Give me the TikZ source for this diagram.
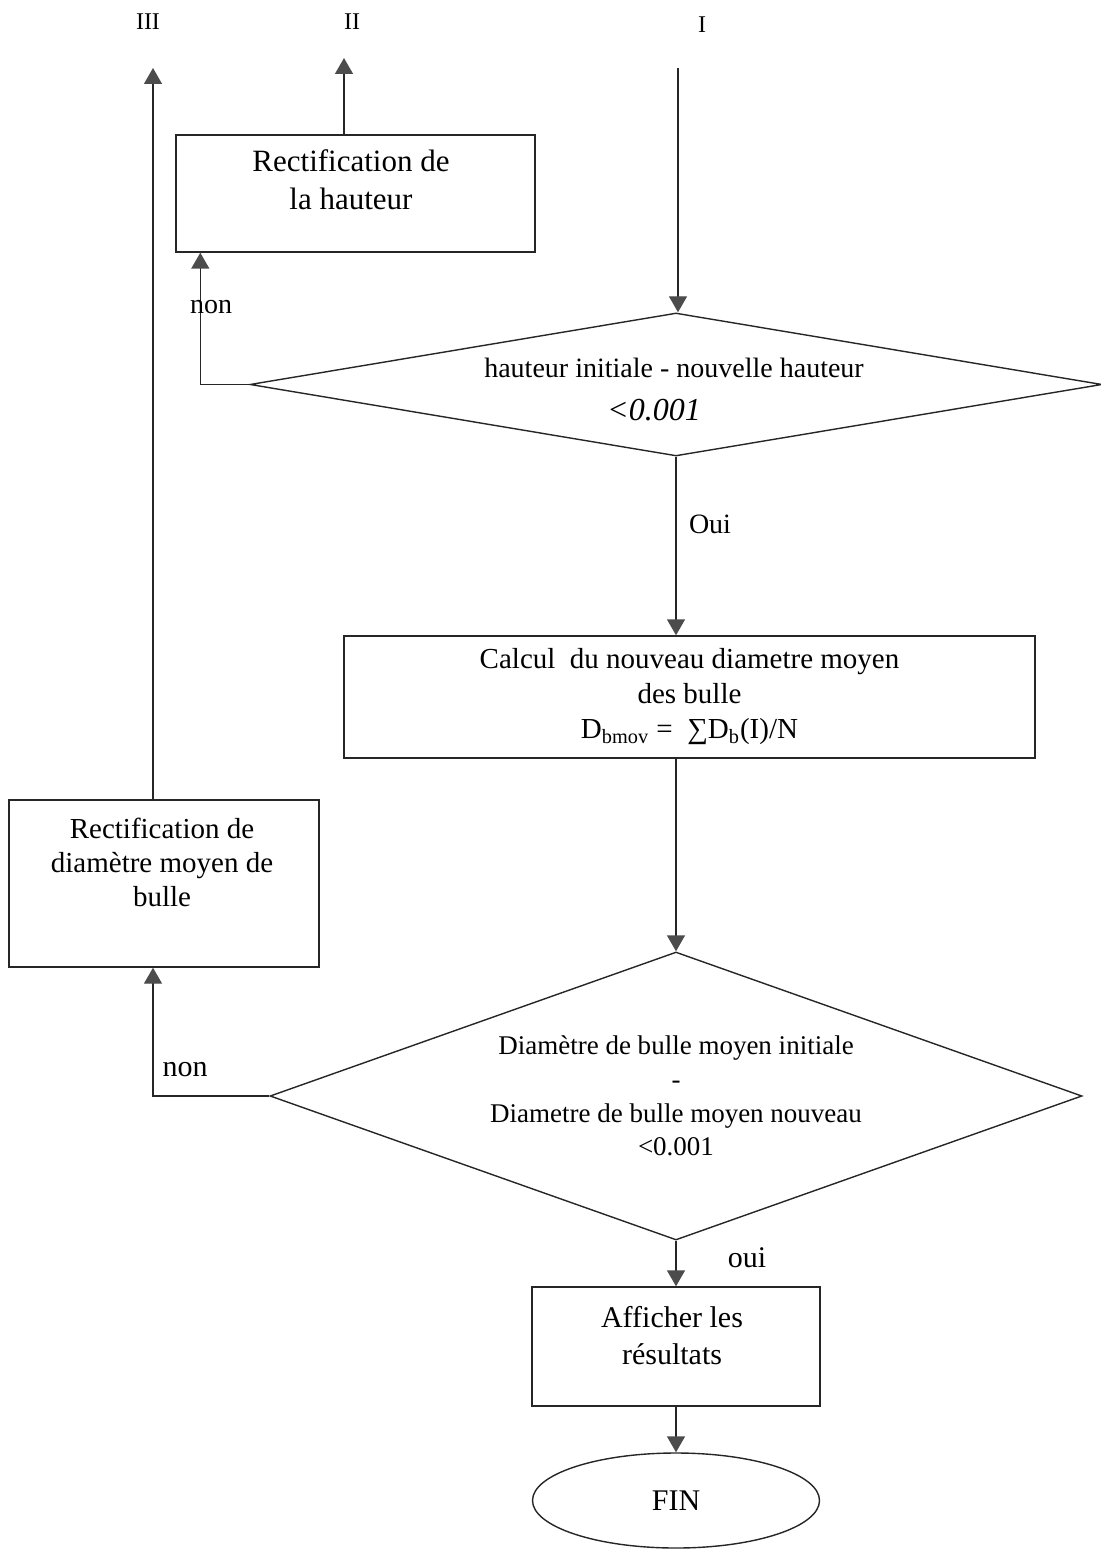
\documentclass[tikz,border=0pt]{standalone}
\usepackage{fontspec}
\setmainfont{Liberation Serif}
\usetikzlibrary{shapes.geometric,arrows.meta,calc}
\begin{document}
\begin{tikzpicture}[x=0.5pt,y=-0.5pt,
  line/.style={draw=black!85,line width=0.7pt},
  arr/.style={line,-{Triangle[width=9pt,length=8pt,color=black!70]}},
  box/.style={draw=black!85,line width=0.7pt,rectangle,inner sep=0pt},
  dec/.style={draw=black!85,line width=0.7pt,shape=diamond,inner sep=0pt,align=center},
  txt/.style={align=center,inner sep=0pt,font=\fontsize{15}{18.5}\selectfont},
  lab/.style={inner sep=0pt,font=\fontsize{14}{17}\selectfont}]
\useasboundingbox (0,0) rectangle (1100,1550);

% top labels and free ends
\node[lab,font=\fontsize{12}{14}\selectfont] (lIII) at (148,22) {III};
\node[lab,font=\fontsize{12}{14}\selectfont] (lII) at (352,22) {II};
\node[lab,font=\fontsize{12}{14}\selectfont] (lI) at (702,25) {I};
\coordinate (IIItip) at (153,68);
\coordinate (IItip) at (344,58);
\coordinate (Itop) at (678,68);

% box 1
\node[box,minimum width=179.5pt,minimum height=58.5pt] (box1) at (355.5,193.5) {};
\node[txt,font=\fontsize{15.5}{19}\selectfont] (box1t) at (351,180) {Rectification de\\la hauteur};

% diamond 1
\node[dec,aspect=6,minimum width=426pt,minimum height=71.5pt,
  font=\fontsize{14}{19.5}\selectfont] (d1) at (676,384.5) {};
\node[align=center,inner sep=0pt,font=\fontsize{14}{19.5}\selectfont] (d1t) at (674,390)
  {hauteur initiale - nouvelle hauteur\\[2pt]{\itshape\fontsize{16}{16}\selectfont\hspace*{-20pt}<0.001}};

% box 2
\node[box,minimum width=345.5pt,minimum height=61pt,align=center,
  font=\fontsize{14.5}{17.5}\selectfont] (box2) at (689.5,697)
  {Calcul\ \ du nouveau diametre moyen\\des bulle\\D\textsubscript{bmov} =\ \ ∑D\textsubscript{b}(I)/N};

% left box
\node[box,minimum width=155pt,minimum height=83.5pt] (box4) at (164,883.5) {};
\node[txt,font=\fontsize{14.5}{17}\selectfont] (box4t) at (162,862) {Rectification de\\diamètre moyen de\\bulle};

% diamond 2
\node[dec,aspect=2.82,minimum width=406pt,minimum height=144pt,
  font=\fontsize{13.5}{16.8}\selectfont] (d2) at (676,1096)
  {Diamètre de bulle moyen initiale\\-\\Diametre de bulle moyen nouveau\\<0.001};

% box 3
\node[box,minimum width=144pt,minimum height=59.5pt] (box3) at (676,1346.5) {};
\node[txt] (box3t) at (672,1335.5) {Afficher les\\résultats};

% end
\node[draw=black!85,line width=0.7pt,ellipse,minimum width=143.5pt,minimum height=47.5pt,inner sep=0pt,
  font=\fontsize{15}{18}\selectfont] (fin) at (676,1500.5) {FIN};

% connectors
\draw[arr] (Itop) -- (Itop |- d1.north);
\draw[arr] (IItip |- box1.north) -- (IItip);
\draw[arr] (IIItip |- box4.north) -- (IIItip);
\draw[arr] (d1.west) -| ($(box1.south west)+(25,0)$);
\node[lab] (non1) at (211,307) {non};
\draw[arr] (d1.south) -- (d1.south |- box2.north);
\node[lab] (oui1) at (710,524) {Oui};
\draw[arr] (d2.north |- box2.south) -- (d2.north);
\draw[arr] (d2.west) -| (IIItip |- box4.south);
\node[lab,font=\fontsize{15}{17}\selectfont] (non2) at (185,1070) {non};
\draw[arr] (d2.south) -- (box3.north);
\node[lab,font=\fontsize{15}{17}\selectfont] (oui2) at (747,1258) {oui};
\draw[arr] (box3.south) -- (fin.north);
\end{tikzpicture}
\end{document}
